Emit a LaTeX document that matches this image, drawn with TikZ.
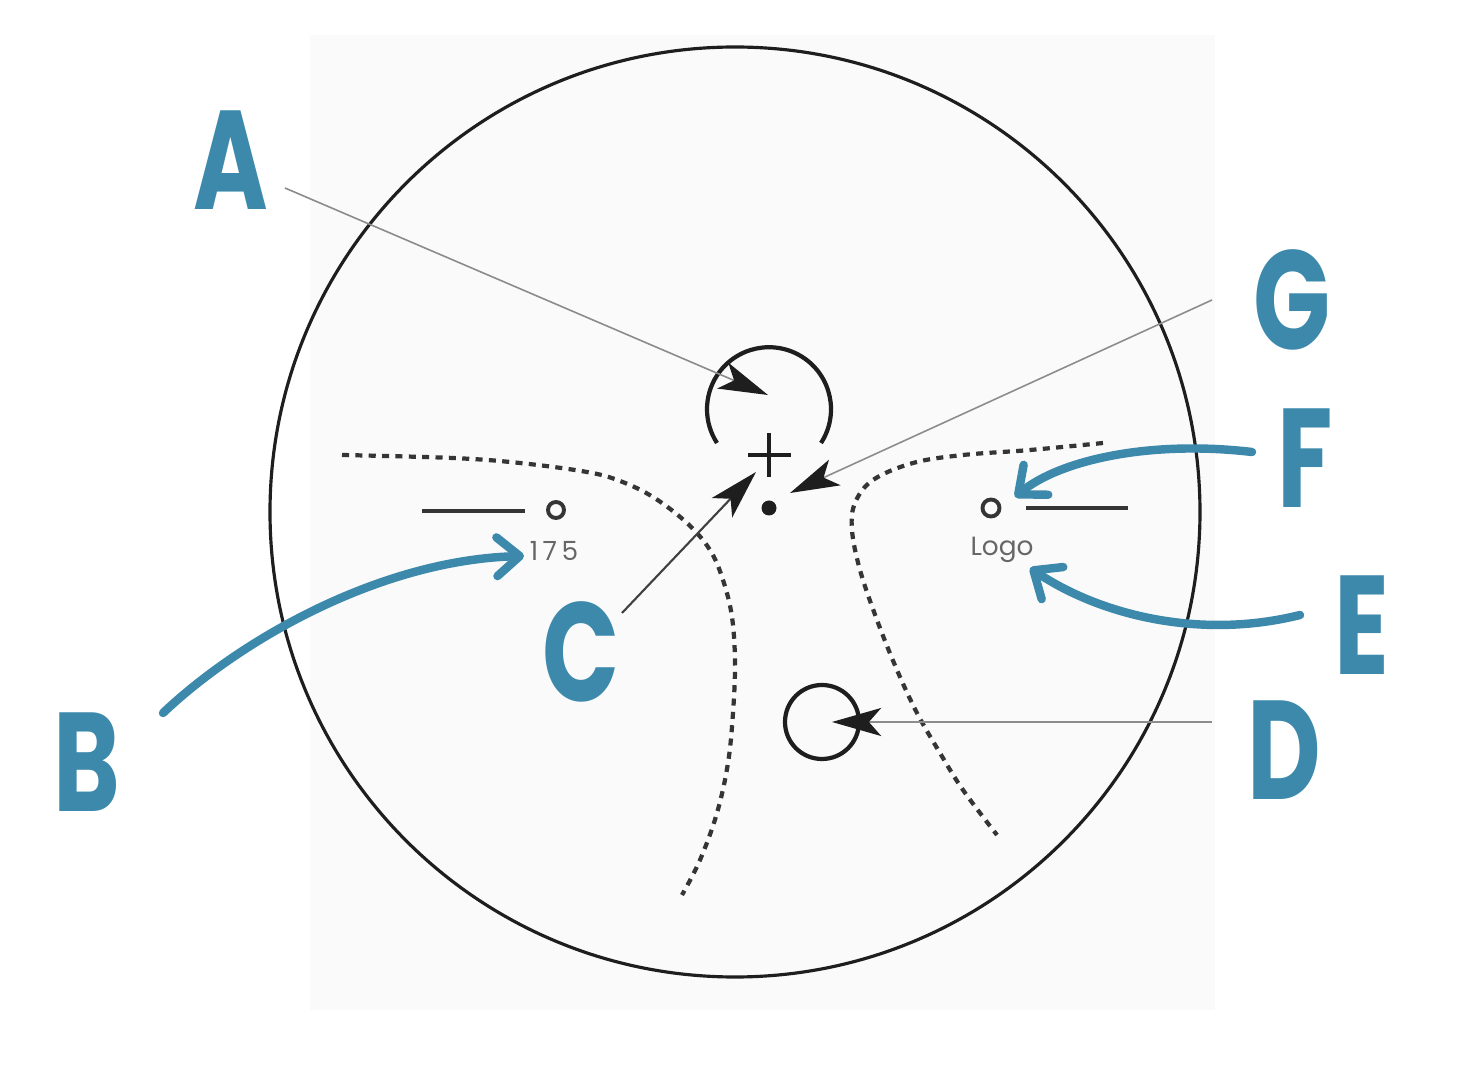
\documentclass[tikz,border=0pt]{standalone}
\usepackage{fontspec}
\usetikzlibrary{arrows.meta}
\newfontfamily\handfont{Poppins}
\newfontfamily\geofont{Poppins}
\definecolor{markblue}{RGB}{60,137,172}
\definecolor{ink}{RGB}{30,30,30}
\tikzset{
  handlabel/.style={text=markblue, font=\handfont\bfseries\fontsize{40}{40}\selectfont, inner sep=0pt, xscale=0.72},
  bluearrow/.style={draw=markblue, line width=2.4pt, line cap=round, line join=round, -{Straight Barb[round, length=6.5pt, width=11pt]}},
  leader/.style={draw=black!45, line width=0.45pt, -{Stealth[length=14pt, width=8pt, inset=3.5pt, color=ink]}},
  dotcurve/.style={draw=ink!90, line width=1.2pt, dash pattern=on 2pt off 1.8pt},
  smalltext/.style={text=black!60, font=\geofont\fontsize{7.5}{8}\selectfont, inner sep=0pt},
}
\begin{document}
\begin{tikzpicture}[x=0.01cm, y=-0.01cm]
\useasboundingbox (0,0) rectangle (1465,1088);
\fill[white] (0,0) rectangle (1465,1088);
\fill[black!2] (310,35) rectangle (1215,1010);

% big circle
\draw[ink, line width=0.9pt] (735,512) circle[radius=465];

% top arc (A)
\draw[ink, line width=1.2pt] (821,443) arc[start angle=33, end angle=-213, radius=62];
% plus sign
\draw[ink, line width=0.9pt] (748,455) -- (791,455) (769,433) -- (769,477);
% dot
\fill[ink] (769,508) circle[radius=7.5];
% D circle
\draw[ink, line width=1.2pt] (822,722) circle[radius=37];

% side markers
\draw[ink!90, line width=1.1pt] (422,511) -- (525,511);
\draw[ink!90, line width=1.1pt] (556,510) circle[radius=8];
\draw[ink!90, line width=1.1pt] (991,508) circle[radius=8.5];
\draw[ink!90, line width=1.1pt] (1026,508) -- (1128,508);
\node[smalltext] (t175) at (554,551) {1\,7\,5};
\node[smalltext] (tlogo) at (1002,550) {Logo};

% dotted curves
\draw[dotcurve] plot[smooth, tension=0.6] coordinates {(342,455) (453,458) (520,463) (587,472) (620,481) (653,497) (687,523) (710,550) (723,580) (732,617) (735,663) (733,713) (728,763) (717,813) (700,860) (682,895)};
\draw[dotcurve] plot[smooth, tension=0.6] coordinates {(1103,443) (1030,450) (963,455) (913,463) (873,480) (855,503) (852,530) (860,570) (877,620) (897,670) (917,713) (940,753) (963,790) (997,835)};

% labels
\node[handlabel] (A) at (231,160) {A};
\node[handlabel] (B) at (87,762) {B};
\node[handlabel] (C) at (581,652) {C};
\node[handlabel] (D) at (1284,750) {D};
\node[handlabel] (E) at (1362,625) {E};
\node[handlabel] (F) at (1305,458) {F};
\node[handlabel] (G) at (1292,300) {G};

% leader endpoints
\coordinate (aS) at (285,188);
\coordinate (aT) at (768,395);
\coordinate (gS) at (1212,300);
\coordinate (gT) at (790,493);
\coordinate (dS) at (1212,722);
\coordinate (dT) at (832,722);
\coordinate (cS) at (622,613);
\coordinate (cT) at (756,472);

\draw[leader] (aS) -- (aT);
\draw[leader] (gS) -- (gT);
\draw[leader] (dS) -- (dT);
\draw[leader, draw=black!75, line width=0.6pt] (cS) -- (cT);

% blue arrows
\coordinate (bS) at (163,713);
\coordinate (bT) at (524,556);
\coordinate (eS) at (1300,615);
\coordinate (eT) at (1030,568);
\coordinate (fS) at (1252,452);
\coordinate (fT) at (1015,497);
\draw[bluearrow] (bS) .. controls (240,640) and (380,560) .. (bT);
\draw[bluearrow] (eS) .. controls (1200,640) and (1100,615) .. (eT);
\draw[bluearrow] (fS) .. controls (1150,440) and (1060,460) .. (fT);
\end{tikzpicture}
\end{document}
